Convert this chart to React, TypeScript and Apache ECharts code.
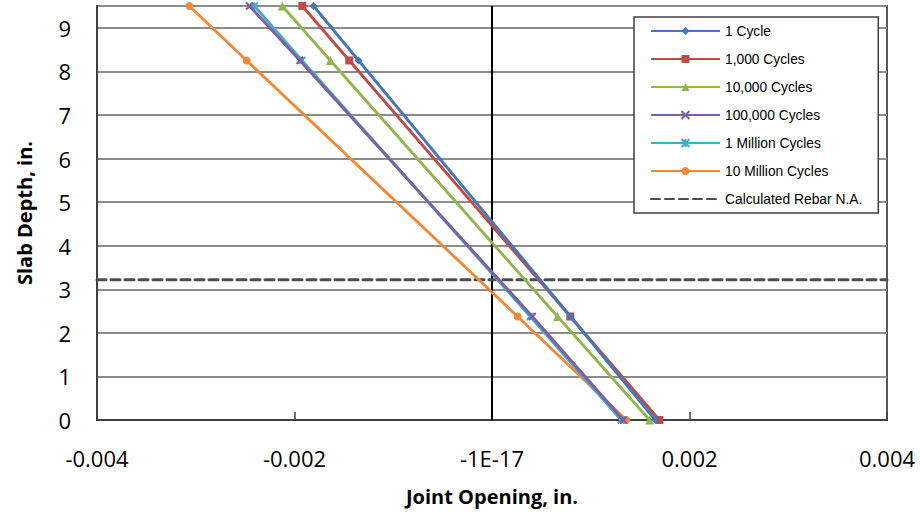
import React, { useEffect, useRef } from "react";
import * as echarts from "echarts";

const depths = [9.5, 8.25, 2.375, 0];
const seriesNames = [
  "1 Cycle",
  "1,000 Cycles",
  "10,000 Cycles",
  "100,000 Cycles",
  "1 Million Cycles",
  "10 Million Cycles",
];
const cycle1 = [-0.001807, -0.001351, 0.000795, 0.001654];
const cycle1k = [-0.001921, -0.001445, 0.000793, 0.001695];
const cycle10k = [-0.002124, -0.001637, 0.000664, 0.001596];
const cycle100k = [-0.002455, -0.001945, 0.000408, 0.00133];
const cycle1M = [-0.002407, -0.001925, 0.000388, 0.001309];
const cycle10M = [-0.003065, -0.002485, 0.000259, 0.00136];
const rebarName = "Calculated Rebar N.A.";
const rebarX = [-0.004, 0.004];
const rebarDepth = 3.22;
const zeroLineX = [0, 0];
const zeroLineY = [0, 9.5];
const xTickLabels = ["-0.004", "-0.002", "-1E-17", "0.002", "0.004"];
const yTickLabels = ["0", "1", "2", "3", "4", "5", "6", "7", "8", "9"];

const colors = ["#4677B5", "#BE4B48", "#93B550", "#7D60A0", "#46AAC5", "#F08A3A"];
const symbols = [
  "diamond",
  "rect",
  "triangle",
  "path://M0,0L10,10M10,0L0,10",
  "path://M0,0L10,10M10,0L0,10M5,0L5,10",
  "circle",
];
const symbolSizes = [8, 8, 9, 7, 7, 8];

// chart canvas is shifted up by OFFSET px so the top markers are not near the canvas edge
const OFFSET = 20;

export default function App() {
  const ref = useRef<HTMLDivElement>(null);
  useEffect(() => {
    if (!ref.current) return;
    const chart = echarts.init(ref.current, undefined, { renderer: "svg" });
    const allData = [cycle1, cycle1k, cycle10k, cycle100k, cycle1M, cycle10M];
    const series: any[] = allData.map((arr, i) => ({
      name: seriesNames[i],
      type: "line",
      data: arr.map((x, j) => [x, depths[j]]),
      symbol: symbols[i],
      symbolSize: symbolSizes[i],
      showSymbol: true,
      clip: false,
      lineStyle: { color: colors[i], width: 2.9 },
      itemStyle: {
        color: colors[i],
        borderColor: colors[i],
        borderWidth: i === 3 || i === 4 ? 2 : 0,
      },
      z: 10 - i,
    }));
    series.push({
      name: rebarName,
      type: "line",
      data: rebarX.map((x) => [x, rebarDepth]),
      symbol: "circle",
      showSymbol: false,
      symbolSize: 0,
      lineStyle: { color: "#4D4D4D", width: 3, type: [9, 5], cap: "round" },
      itemStyle: { color: "#4D4D4D", opacity: 0 },
      z: 3,
    });
    series.push({
      name: "zero",
      type: "line",
      data: zeroLineX.map((x, j) => [x, zeroLineY[j]]),
      symbol: "none",
      lineStyle: { color: "#000000", width: 2 },
      z: 2,
      silent: true,
    });
    chart.setOption({
      animation: false,
      color: colors,
      grid: {
        left: 97,
        right: 33,
        top: 6 + OFFSET,
        bottom: 92,
        show: true,
        borderColor: "#5A5A5A",
        borderWidth: 2,
        backgroundColor: "#ffffff",
      },
      legend: {
        data: [...seriesNames, rebarName],
        orient: "vertical",
        left: 634,
        top: 17 + OFFSET,
        itemWidth: 69,
        itemHeight: 10,
        itemGap: 14,
        padding: [7, 16, 7, 16],
        backgroundColor: "#ffffff",
        borderColor: "#404040",
        borderWidth: 1.5,
        textStyle: {
          fontFamily: "Liberation Sans",
          fontSize: 13.8,
          color: "#000",
          lineHeight: 14,
        },
      },
      xAxis: {
        type: "value",
        min: -0.004,
        max: 0.004,
        interval: 0.002,
        name: "Joint Opening, in.",
        nameLocation: "middle",
        nameGap: 66,
        nameTextStyle: {
          fontFamily: "Open Sans",
          fontWeight: "bold",
          fontSize: 20,
          color: "#000",
        },
        axisLine: { show: true, onZero: false, lineStyle: { color: "#404040", width: 2 } },
        axisTick: { show: true, inside: true, length: 8, lineStyle: { color: "#404040", width: 1.5 } },
        splitLine: { show: false },
        axisLabel: {
          margin: 27,
          fontFamily: "Open Sans",
          fontSize: 22,
          color: "#000",
          formatter: (v: number) => xTickLabels[Math.round((v + 0.004) / 0.002)] ?? "",
        },
      },
      yAxis: {
        type: "value",
        min: 0,
        max: 9.5,
        interval: 1,
        name: "Slab Depth, in.",
        nameLocation: "middle",
        nameGap: 63,
        nameTextStyle: {
          fontFamily: "Open Sans",
          fontWeight: "bold",
          fontSize: 20,
          color: "#000",
        },
        axisLine: { show: true, onZero: false, lineStyle: { color: "#404040", width: 2 } },
        axisTick: { show: false },
        splitLine: { show: true, lineStyle: { color: "#8C8C8C", width: 2 } },
        axisLabel: {
          margin: 26,
          fontFamily: "Open Sans",
          fontSize: 22,
          color: "#000",
          formatter: (v: number) =>
            Math.abs(v - Math.round(v)) < 1e-6 ? yTickLabels[Math.round(v)] ?? "" : "",
        },
      },
      series,
    });
    return () => chart.dispose();
  }, []);
  return (
    <div
      ref={ref}
      style={{ position: "absolute", left: 0, top: -OFFSET, width: 920, height: 512 + OFFSET }}
    />
  );
}
